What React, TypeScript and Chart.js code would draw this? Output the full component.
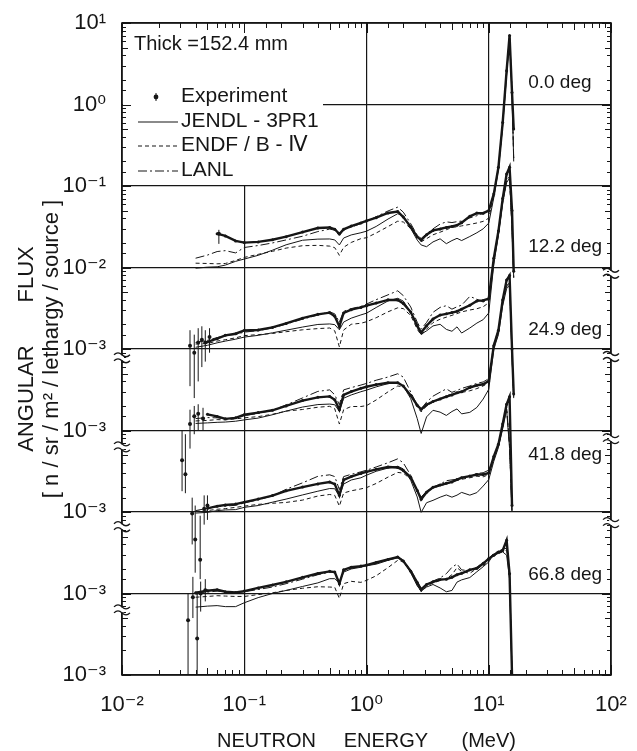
import React, { useEffect, useRef } from 'react';
import { Chart, registerables } from 'chart.js';

Chart.register(...registerables);

// ---------- data (neutron energy grid, MeV) ----------
const ENERGY_MEV = [
  0.04, 0.05, 0.06, 0.07, 0.085, 0.1, 0.13, 0.17, 0.22, 0.3,
  0.4, 0.5, 0.55, 0.6, 0.65, 0.75, 0.9, 1.0, 1.2, 1.5,
  1.8, 2.0, 2.3, 2.6, 2.8, 3.1, 3.5, 4.0, 4.5, 5.0,
  5.5, 6.0, 7.0, 8.0, 9.0, 10, 11, 12, 13, 14,
  14.8, 15.5, 16,
];

// angular flux [n/sr/m2/lethargy/source]
const EXP_0 = [
  null, null, 0.026, 0.0244, 0.0212, 0.0202, 0.0206, 0.0219, 0.0239, 0.0272,
  0.0305, 0.031, 0.0295, 0.0257, 0.0294, 0.0322, 0.0352, 0.0374, 0.0409, 0.0467,
  0.0487, 0.0416, 0.0315, 0.0238, 0.0217, 0.0253, 0.0285, 0.0297, 0.031, 0.0319,
  0.033, 0.0355, 0.0425, 0.0465, 0.0464, 0.0498, 0.08, 0.17, 0.6, 2.6,
  7.0, 1.4, 0.5,
];
const JENDL_0 = [
  0.0098, 0.0101, 0.0102, 0.0107, 0.0119, 0.0127, 0.0141, 0.0163, 0.019, 0.0216,
  0.0223, 0.0224, 0.0218, 0.0189, 0.023, 0.0251, 0.0267, 0.0279, 0.0319, 0.0393,
  0.0457, 0.0428, 0.0301, 0.0217, 0.0189, 0.018, 0.0206, 0.0225, 0.0196, 0.0214,
  0.0228, 0.0214, 0.024, 0.0267, 0.0298, 0.0351, 0.072, 0.16, 0.55, 2.3,
  6.6, 1.3, 0.2,
];
const ENDF_0 = [
  0.0113, 0.0112, 0.0111, 0.0112, 0.0122, 0.0133, 0.0145, 0.0158, 0.0173, 0.0185,
  0.0187, 0.0183, 0.0175, 0.0141, 0.0177, 0.0203, 0.0226, 0.0232, 0.0265, 0.0318,
  0.037, 0.0362, 0.0301, 0.0238, 0.0207, 0.0226, 0.0252, 0.0271, 0.0291, 0.031,
  0.0316, 0.0324, 0.0338, 0.0352, 0.0368, 0.0403, 0.075, 0.165, 0.56, 2.4,
  7.0, 1.4, 0.22,
];
const LANL_0 = [
  0.013, 0.0142, 0.0157, 0.0161, 0.0151, 0.0176, 0.0186, 0.02, 0.0218, 0.0242,
  0.0276, 0.0296, 0.0287, 0.0245, 0.0294, 0.0313, 0.0345, 0.0367, 0.042, 0.0494,
  0.055, 0.0478, 0.0345, 0.0249, 0.0227, 0.026, 0.0298, 0.0341, 0.0363, 0.0356,
  0.0365, 0.0372, 0.0406, 0.0432, 0.0464, 0.0507, 0.08, 0.17, 0.58, 2.5,
  7.2, 1.5, 0.22,
];

const EXP_12 = [
  null, 0.00122, 0.00134, 0.00147, 0.00154, 0.00169, 0.00171, 0.00184, 0.00206, 0.00239,
  0.00266, 0.00279, 0.00252, 0.00189, 0.00277, 0.00304, 0.00324, 0.0034, 0.00366, 0.00401,
  0.00399, 0.00362, 0.00284, 0.00193, 0.00159, 0.00193, 0.00233, 0.00261, 0.0027, 0.0028,
  0.0029, 0.00308, 0.00344, 0.00389, 0.00395, 0.00414, 0.013, 0.028, 0.07, 0.14,
  0.17, 0.05, 0.009,
];
const JENDL_12 = [
  0.00105, 0.00111, 0.00119, 0.00125, 0.00132, 0.0014, 0.00147, 0.00158, 0.0017, 0.00186,
  0.002, 0.00203, 0.00199, 0.00172, 0.00214, 0.00239, 0.00262, 0.00275, 0.00323, 0.00389,
  0.00419, 0.00387, 0.00284, 0.00184, 0.00152, 0.00167, 0.00192, 0.00201, 0.00174, 0.00165,
  0.00187, 0.00157, 0.00181, 0.00208, 0.00229, 0.00277, 0.011, 0.025, 0.062, 0.11,
  0.125, 0.03, 0.0075,
];
const ENDF_12 = [
  0.00115, 0.00117, 0.00125, 0.0013, 0.00137, 0.00146, 0.0015, 0.00155, 0.00163, 0.00172,
  0.00178, 0.00181, 0.00167, 0.00106, 0.00171, 0.00201, 0.00207, 0.00216, 0.00242, 0.00286,
  0.0032, 0.00313, 0.00258, 0.00175, 0.00148, 0.00175, 0.00211, 0.00232, 0.00246, 0.00259,
  0.00272, 0.00285, 0.00301, 0.00312, 0.0033, 0.00369, 0.012, 0.026, 0.064, 0.115,
  0.125, 0.03, 0.0075,
];
const LANL_12 = [
  0.0012, 0.00128, 0.00138, 0.00147, 0.00151, 0.00161, 0.00168, 0.00181, 0.00202, 0.00232,
  0.00261, 0.00286, 0.0027, 0.00214, 0.0029, 0.00313, 0.00333, 0.00356, 0.00403, 0.00462,
  0.00518, 0.00452, 0.00328, 0.00213, 0.00175, 0.00212, 0.00282, 0.00324, 0.0034, 0.00308,
  0.0033, 0.00345, 0.00442, 0.00408, 0.00377, 0.00406, 0.0125, 0.027, 0.066, 0.12,
  0.13, 0.032, 0.0078,
];

const EXP_25 = [
  null, 0.00158, 0.00149, 0.00139, 0.00143, 0.00156, 0.00166, 0.00177, 0.002, 0.00233,
  0.00255, 0.00262, 0.00238, 0.0018, 0.00273, 0.003, 0.00329, 0.00344, 0.00366, 0.00386,
  0.00386, 0.00351, 0.0027, 0.00204, 0.00182, 0.00207, 0.00227, 0.00244, 0.0026, 0.00273,
  0.0029, 0.00299, 0.00337, 0.00359, 0.00369, 0.00404, 0.011, 0.017, 0.04, 0.07,
  0.08, 0.01, 0.0028,
];
const JENDL_25 = [
  0.00122, 0.00124, 0.00126, 0.00127, 0.0013, 0.00135, 0.00142, 0.00156, 0.00173, 0.00194,
  0.00208, 0.00211, 0.00207, 0.00172, 0.00249, 0.00273, 0.00299, 0.00313, 0.00343, 0.00376,
  0.00386, 0.00351, 0.00246, 0.0014, 0.00092, 0.00147, 0.00177, 0.00168, 0.00153, 0.00171,
  0.00184, 0.0016, 0.00167, 0.00192, 0.00243, 0.0032, 0.01, 0.015, 0.034, 0.055,
  0.06, 0.008, 0.0025,
];
const ENDF_25 = [
  0.00131, 0.00133, 0.00136, 0.00135, 0.00139, 0.00143, 0.00148, 0.00158, 0.00173, 0.00181,
  0.00193, 0.00198, 0.00185, 0.0012, 0.0018, 0.00197, 0.00197, 0.00202, 0.00237, 0.00298,
  0.00352, 0.00342, 0.0027, 0.00195, 0.00169, 0.002, 0.00223, 0.0024, 0.00268, 0.0028,
  0.00286, 0.00293, 0.00307, 0.00327, 0.00352, 0.00386, 0.011, 0.016, 0.036, 0.058,
  0.063, 0.0085, 0.0025,
];
const LANL_25 = [
  0.0014, 0.00144, 0.00143, 0.00139, 0.00143, 0.00152, 0.00162, 0.00177, 0.00206, 0.00251,
  0.00302, 0.00315, 0.00274, 0.00207, 0.00315, 0.00336, 0.00361, 0.00378, 0.00414, 0.00453,
  0.00497, 0.00452, 0.00296, 0.00204, 0.00185, 0.00223, 0.00264, 0.00295, 0.00324, 0.00294,
  0.0031, 0.00328, 0.00352, 0.00379, 0.00394, 0.00432, 0.0115, 0.017, 0.037, 0.06,
  0.065, 0.0085, 0.0026,
];

const EXP_42 = [
  null, 0.00111, 0.00118, 0.00122, 0.00125, 0.00132, 0.00144, 0.00159, 0.00182, 0.00202,
  0.00221, 0.00233, 0.0022, 0.0016, 0.00248, 0.00272, 0.00297, 0.00311, 0.00334, 0.00356,
  0.00351, 0.00323, 0.00267, 0.00184, 0.00143, 0.00175, 0.00201, 0.00214, 0.00225, 0.00234,
  0.0025, 0.00264, 0.00276, 0.00288, 0.00288, 0.00301, 0.0048, 0.0068, 0.012, 0.021,
  0.026, 0.0012, null,
];
const JENDL_42 = [
  0.00097, 0.00099, 0.00104, 0.00106, 0.00107, 0.00114, 0.0012, 0.00132, 0.00144, 0.00162,
  0.0018, 0.00194, 0.00193, 0.00156, 0.0022, 0.00247, 0.00263, 0.00283, 0.00316, 0.00346,
  0.00364, 0.00338, 0.00245, 0.00153, 0.00099, 0.0013, 0.00139, 0.00152, 0.00162, 0.00152,
  0.00161, 0.00174, 0.00161, 0.00173, 0.00208, 0.0025, 0.0042, 0.0062, 0.0105, 0.018,
  0.006, 0.001, null,
];
const ENDF_42 = [
  0.00102, 0.00104, 0.00108, 0.0011, 0.00114, 0.00118, 0.00124, 0.00128, 0.00131, 0.0014,
  0.00157, 0.00164, 0.0016, 0.00118, 0.00171, 0.00182, 0.00192, 0.00199, 0.00224, 0.00268,
  0.00306, 0.003, 0.00253, 0.00178, 0.00146, 0.00175, 0.00196, 0.0021, 0.0022, 0.00234,
  0.00244, 0.00252, 0.00263, 0.00275, 0.0027, 0.00288, 0.0044, 0.0064, 0.011, 0.019,
  0.0065, 0.001, null,
];
const LANL_42 = [
  0.00104, 0.00111, 0.00116, 0.00118, 0.00121, 0.00129, 0.00141, 0.00158, 0.0019, 0.00228,
  0.00274, 0.00286, 0.00272, 0.00188, 0.00272, 0.0029, 0.00311, 0.00326, 0.00357, 0.00402,
  0.00449, 0.00401, 0.00282, 0.00176, 0.00153, 0.00179, 0.00201, 0.0022, 0.00242, 0.00248,
  0.00252, 0.00257, 0.00276, 0.00297, 0.00303, 0.00326, 0.0046, 0.0066, 0.0112, 0.0195,
  0.0065, 0.001, null,
];

const EXP_67 = [
  0.00102, 0.00108, 0.00111, 0.00105, 0.00103, 0.00107, 0.00117, 0.00127, 0.00139, 0.00158,
  0.00176, 0.00187, 0.00183, 0.00132, 0.00195, 0.0021, 0.00217, 0.00223, 0.0024, 0.00262,
  0.0028, 0.0025, 0.00188, 0.00136, 0.00112, 0.00129, 0.00139, 0.00148, 0.0015, 0.00158,
  0.0017, 0.00177, 0.00195, 0.00204, 0.00233, 0.00268, 0.00294, 0.00322, 0.00337, 0.0045,
  0.00175, 0.0001, null,
];
const JENDL_67 = [
  0.00068, 0.0007, 0.00071, 0.00069, 0.00069, 0.00077, 0.00089, 0.001, 0.00109, 0.00122,
  0.00135, 0.00152, 0.00152, 0.00135, 0.00183, 0.002, 0.0021, 0.00219, 0.00229, 0.00255,
  0.00274, 0.0025, 0.0018, 0.00124, 0.00107, 0.0012, 0.00129, 0.00117, 0.00105, 0.00109,
  0.00138, 0.00147, 0.00157, 0.00185, 0.00213, 0.00244, 0.00306, 0.00309, 0.00324, 0.00295,
  0.0015, 0.0001, null,
];
const ENDF_67 = [
  0.0009, 0.00092, 0.00094, 0.00093, 0.00092, 0.00092, 0.00097, 0.00102, 0.00109, 0.00116,
  0.00121, 0.0012, 0.00119, 0.00087, 0.00132, 0.00141, 0.00137, 0.00145, 0.00165, 0.00208,
  0.00255, 0.00245, 0.00188, 0.0013, 0.00105, 0.00123, 0.00135, 0.00144, 0.00152, 0.0017,
  0.00208, 0.00186, 0.00177, 0.00203, 0.00219, 0.00256, 0.0029, 0.0031, 0.0033, 0.0034,
  0.0018, 0.0001, null,
];
const LANL_67 = [
  0.00098, 0.00104, 0.00107, 0.00104, 0.00102, 0.00105, 0.00112, 0.0012, 0.00132, 0.0015,
  0.0017, 0.00183, 0.0018, 0.00138, 0.0019, 0.00205, 0.00213, 0.0022, 0.00238, 0.0026,
  0.00283, 0.00255, 0.00195, 0.0014, 0.00115, 0.00128, 0.00142, 0.00155, 0.00175, 0.0021,
  0.0023, 0.00195, 0.0019, 0.0021, 0.0024, 0.0027, 0.0031, 0.0033, 0.0035, 0.0036,
  0.0017, 0.0001, null,
];

// low-energy experimental points with error bars: [E (MeV), flux, lower, upper]
const ERR_0 = [[0.062, 0.026, 0.0195, 0.029]];
const ERR_12 = [
  [0.036, 0.0011, 0.00035, 0.0017], [0.039, 0.0009, 0.00025, 0.0015], [0.042, 0.0012, 0.0004, 0.0018],
  [0.045, 0.0013, 0.0006, 0.0019], [0.048, 0.0012, 0.0007, 0.0017], [0.052, 0.0014, 0.0009, 0.0018],
];
const ERR_25 = [
  [0.031, 0.00043, 0.00018, 0.001], [0.033, 0.00029, 0.00017, 0.0009], [0.036, 0.0012, 0.0006, 0.0018],
  [0.039, 0.0015, 0.0009, 0.002], [0.042, 0.0016, 0.001, 0.0021], [0.046, 0.0014, 0.001, 0.0019],
];
const ERR_42 = [
  [0.0375, 0.00096, 0.0004, 0.0015], [0.0397, 0.00046, 0.00018, 0.0012], [0.0436, 0.00026, 0.00015, 0.0009],
  [0.047, 0.0011, 0.0007, 0.0016], [0.05, 0.0012, 0.0008, 0.0016],
];
const ERR_67 = [
  [0.0347, 0.00047, 0.0001, 0.001], [0.0412, 0.00028, 0.0001, 0.001], [0.038, 0.0009, 0.0005, 0.0016],
  [0.044, 0.001, 0.0006, 0.0014], [0.048, 0.0011, 0.0008, 0.0015],
];

// each angle is shifted by this factor on the stacked log axis
const PANEL_SHIFT = [1e7, 1e7, 1e6, 1e5, 1e4];
const ANGLE_LABELS = ['0.0 deg', '12.2 deg', '24.9 deg', '41.8 deg', '66.8 deg'];
const ANGLE_LABEL_FLUX = [1.86, 0.0178, 0.017, 0.0051, 0.0017];
const ANGLE_LABEL_ENERGY = 21;

// y tick labels for decades 0..8 of the stacked axis
const Y_TICK_LABELS = ['10⁻³', '10⁻³', '10⁻³', '10⁻³', '10⁻³', '10⁻²', '10⁻¹', '10⁰', '10¹'];
const X_TICK_LABELS = { '-2': '10⁻²', '-1': '10⁻¹', '0': '10⁰', '1': '10¹', '2': '10²' };

const SERIES_NAMES = ['Experiment', 'JENDL - 3PR1', 'ENDF / B - Ⅳ', 'LANL'];
const THICK_TEXT = 'Thick =152.4 mm';

// ---------- styles ----------
const INK = '#161616';
const FONT = '"Liberation Sans", "DejaVu Sans", sans-serif';
const TICK_FONT = '"Liberation Sans Narrow", "Liberation Sans", "DejaVu Sans", sans-serif';
const DASH_ENDF = [4, 3];
const DASH_LANL = [9, 3, 2, 3];

function isDecade(v) {
  if (!(v > 0)) return false;
  const l = Math.log10(v);
  return Math.abs(l - Math.round(l)) < 1e-6;
}

function toPoints(values, shift) {
  return ENERGY_MEV.map((e, i) => ({ x: e, y: values[i] == null ? null : values[i] * shift }));
}

function errLines(err, shift) {
  const out = [];
  err.forEach((r) => {
    out.push({ x: r[0], y: r[2] * shift });
    out.push({ x: r[0], y: r[3] * shift });
    out.push({ x: r[0], y: null });
  });
  return out;
}

function buildDatasets() {
  const panels = [
    [EXP_0, JENDL_0, ENDF_0, LANL_0, ERR_0],
    [EXP_12, JENDL_12, ENDF_12, LANL_12, ERR_12],
    [EXP_25, JENDL_25, ENDF_25, LANL_25, ERR_25],
    [EXP_42, JENDL_42, ENDF_42, LANL_42, ERR_42],
    [EXP_67, JENDL_67, ENDF_67, LANL_67, ERR_67],
  ];
  const ds = [];
  panels.forEach((p, k) => {
    const s = PANEL_SHIFT[k];
    const base = { borderColor: INK, backgroundColor: INK, pointRadius: 0, tension: 0, fill: false, spanGaps: false };
    ds.push({ ...base, label: `${SERIES_NAMES[1]} ${ANGLE_LABELS[k]}`, data: toPoints(p[1], s), borderWidth: 1 });
    ds.push({ ...base, label: `${SERIES_NAMES[2]} ${ANGLE_LABELS[k]}`, data: toPoints(p[2], s), borderWidth: 1, borderDash: DASH_ENDF });
    ds.push({ ...base, label: `${SERIES_NAMES[3]} ${ANGLE_LABELS[k]}`, data: toPoints(p[3], s), borderWidth: 1, borderDash: DASH_LANL });
    ds.push({ ...base, label: `${SERIES_NAMES[0]} ${ANGLE_LABELS[k]}`, data: toPoints(p[0], s), borderWidth: 2.4, pointRadius: 1.5, pointBorderWidth: 0 });
    ds.push({ ...base, label: `error ${ANGLE_LABELS[k]}`, data: errLines(p[4], s), borderWidth: 1 });
    ds.push({ ...base, label: `error pts ${ANGLE_LABELS[k]}`, data: p[4].map((r) => ({ x: r[0], y: r[1] * s })), showLine: false, pointRadius: 2, pointBorderWidth: 0 });
  });
  return ds;
}

function wave(ctx, x, y) {
  ctx.beginPath();
  ctx.moveTo(x - 8, y);
  ctx.quadraticCurveTo(x - 4, y - 4, x, y);
  ctx.quadraticCurveTo(x + 4, y + 4, x + 8, y);
  ctx.stroke();
}

const BREAKS_LEFT = [7.8e3, 630, 66, 6.3];
const BREAKS_RIGHT = [8.5e4, 8.1e3, 794, 74];

const decorPlugin = {
  id: 'decor',
  beforeDatasetsDraw(chart) {
    const { ctx, chartArea, scales } = chart;
    const yB = scales.y.getPixelForValue(1e6);
    ctx.save();
    ctx.fillStyle = '#fff';
    ctx.fillRect(chartArea.left + 1, chartArea.top + 1, 323 - chartArea.left - 1, yB - chartArea.top - 2);
    ctx.restore();
  },
  afterDraw(chart) {
    const { ctx, chartArea, scales } = chart;
    const { left, right, top, bottom } = chartArea;
    ctx.save();
    ctx.strokeStyle = INK;
    ctx.fillStyle = INK;
    // inward ticks
    ctx.lineWidth = 1;
    scales.y.ticks.forEach((t) => {
      const py = Math.round(scales.y.getPixelForValue(t.value)) + 0.5;
      const m = Math.round(t.value / Math.pow(10, Math.floor(Math.log10(t.value) + 1e-9)));
      const len = isDecade(t.value) ? 9 : m === 5 ? 6 : 4;
      ctx.beginPath();
      ctx.moveTo(left, py); ctx.lineTo(left + len, py);
      ctx.moveTo(right, py); ctx.lineTo(right - len, py);
      ctx.stroke();
    });
    scales.x.ticks.forEach((t) => {
      const px = Math.round(scales.x.getPixelForValue(t.value)) + 0.5;
      const m = Math.round(t.value / Math.pow(10, Math.floor(Math.log10(t.value) + 1e-9)));
      const len = isDecade(t.value) ? 10 : m === 5 ? 7 : 5;
      ctx.beginPath();
      ctx.moveTo(px, bottom); ctx.lineTo(px, bottom - len);
      ctx.moveTo(px, top); ctx.lineTo(px, top + len);
      ctx.stroke();
    });
    // frame
    ctx.lineWidth = 1.6;
    ctx.strokeRect(left, top, right - left, bottom - top);
    // axis breaks
    ctx.lineWidth = 1.3;
    const brk = (x, v) => {
      const y = scales.y.getPixelForValue(v);
      ctx.fillStyle = '#fff';
      ctx.fillRect(x - 2, y - 2.5, 4, 5);
      wave(ctx, x, y - 3);
      wave(ctx, x, y + 3);
    };
    BREAKS_LEFT.forEach((v) => brk(left, v));
    BREAKS_RIGHT.forEach((v) => brk(right, v));
    ctx.fillStyle = INK;
    // thickness note
    ctx.font = `20px ${FONT}`;
    ctx.textBaseline = 'middle';
    ctx.textAlign = 'left';
    ctx.fillText(THICK_TEXT, 134, 44);
    // legend
    const rows = [96, 121, 145, 170];
    ctx.font = `21px ${FONT}`;
    SERIES_NAMES.forEach((name, i) => {
      const y = rows[i];
      ctx.fillText(name, 181, y);
      ctx.beginPath();
      if (i === 0) {
        ctx.arc(156, y + 1, 2.4, 0, Math.PI * 2);
        ctx.fill();
        ctx.beginPath();
        ctx.lineWidth = 1;
        ctx.moveTo(156, y - 3); ctx.lineTo(156, y + 5);
        ctx.stroke();
      } else {
        ctx.lineWidth = 1.2;
        ctx.setLineDash(i === 2 ? DASH_ENDF : i === 3 ? DASH_LANL : []);
        ctx.moveTo(138, y + 1); ctx.lineTo(178, y + 1);
        ctx.stroke();
        ctx.setLineDash([]);
      }
    });
    // angle labels
    ctx.font = `19px ${FONT}`;
    const lx = scales.x.getPixelForValue(ANGLE_LABEL_ENERGY);
    ANGLE_LABELS.forEach((lab, k) => {
      const ly = scales.y.getPixelForValue(ANGLE_LABEL_FLUX[k] * PANEL_SHIFT[k]);
      ctx.fillText(lab, lx, ly);
    });
    ctx.restore();
  },
};

export default function App() {
  const ref = useRef(null);
  useEffect(() => {
    const gridColor = (c) => (c.tick && isDecade(c.tick.value) ? INK : 'rgba(0,0,0,0)');
    const chart = new Chart(ref.current, {
      type: 'line',
      data: { datasets: buildDatasets() },
      options: {
        animation: false,
        responsive: false,
        maintainAspectRatio: false,
        devicePixelRatio: 1,
        layout: { padding: { left: 0, right: 26, top: 23, bottom: 0 } },
        plugins: { legend: { display: false }, tooltip: { enabled: false } },
        scales: {
          x: {
            type: 'logarithmic',
            min: 0.01,
            max: 100,
            position: 'bottom',
            afterFit: (s) => { s.height = 76; s.paddingLeft = 0; s.paddingRight = 0; },
            border: { display: false },
            grid: { color: gridColor, lineWidth: 1.2, drawTicks: false },
            ticks: {
              autoSkip: false,
              maxRotation: 0,
              padding: 17,
              color: INK,
              font: { family: TICK_FONT, size: 22 },
              callback: (v) => (isDecade(v) ? X_TICK_LABELS[String(Math.round(Math.log10(v)))] : ''),
            },
            title: {
              display: true,
              text: 'NEUTRON     ENERGY      (MeV)',
              color: INK,
              font: { family: FONT, size: 20, lineHeight: 1 },
              padding: { top: 0, bottom: 0 },
            },
          },
          y: {
            type: 'logarithmic',
            min: 1,
            max: 1e8,
            afterFit: (s) => { s.width = 122; s.paddingTop = 0; s.paddingBottom = 0; },
            border: { display: false },
            grid: { color: gridColor, lineWidth: 1.2, drawTicks: false },
            ticks: {
              autoSkip: false,
              padding: 16,
              color: INK,
              font: { family: TICK_FONT, size: 22 },
              callback: (v) => (isDecade(v) ? Y_TICK_LABELS[Math.round(Math.log10(v))] : ''),
            },
            title: {
              display: true,
              text: ['ANGULAR       FLUX', '[ n / sr / m² / lethargy / source ]'],
              color: INK,
              font: { family: FONT, size: 22, lineHeight: 1.15 },
              padding: { top: 14, bottom: 0 },
            },
          },
        },
      },
      plugins: [decorPlugin],
    });
    return () => chart.destroy();
  }, []);
  return (
    <div style={{ position: 'absolute', left: 0, top: 0, width: 637, height: 751, background: '#fff' }}>
      <canvas ref={ref} width={637} height={751} style={{ display: 'block' }} />
    </div>
  );
}
